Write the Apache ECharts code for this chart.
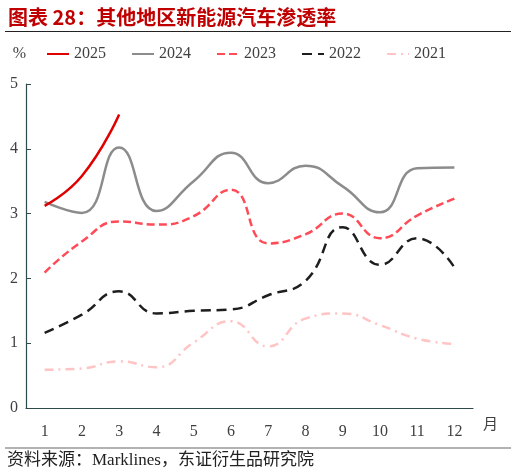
<!DOCTYPE html>
<html lang="zh">
<head>
    <meta charset="UTF-8">
    <title>其他地区新能源汽车渗透率</title>
    <script src="https://cdn.jsdelivr.net/npm/echarts@6/dist/echarts.min.js"></script>
    <style>
        html, body { margin: 0; padding: 0; background: #fff; }
    </style>
</head>
<body>
<div id="main" style="width: 517px;height:476px;"></div>
<script type="text/javascript">
    // 月份（x轴）
    var months = ['1', '2', '3', '4', '5', '6', '7', '8', '9', '10', '11', '12'];
    var yTicks = [0, 1, 2, 3, 4, 5];

    // 各年渗透率（%）
    var y2025 = [3.12, 3.58, 4.53];
    var y2024 = [3.18, 3.01, 4.02, 3.04, 3.50, 3.94, 3.47, 3.74, 3.42, 3.02, 3.70, 3.71];
    var y2023 = [2.09, 2.57, 2.88, 2.83, 2.96, 3.37, 2.54, 2.68, 3.00, 2.62, 2.97, 3.23];
    var y2022 = [1.16, 1.44, 1.80, 1.46, 1.50, 1.52, 1.74, 1.96, 2.79, 2.21, 2.62, 2.17];
    var y2021 = [0.59, 0.61, 0.72, 0.63, 1.01, 1.34, 0.95, 1.38, 1.46, 1.28, 1.07, 0.99];

    var serif = '"Liberation Serif", "Noto Sans CJK SC", serif';
    var cjk = '"Noto Sans CJK SC", sans-serif';

    var myChart = echarts.init(document.getElementById('main'));

    function line(name, data, color, dash) {
        return {
            name: name,
            type: 'line',
            data: data,
            smooth: 0.5,
            symbol: 'none',
            lineStyle: { color: color, width: 2.5, type: dash || 'solid' },
            itemStyle: { color: color }
        };
    }

    myChart.setOption({
        animation: false,
        title: {
            text: '图表 28：其他地区新能源汽车渗透率',
            left: 3,
            top: 2,
            textStyle: { color: '#c00000', fontSize: 20, fontWeight: 'bold', fontFamily: cjk }
        },
        legend: {
            data: ['2025', '2024', '2023', '2022', '2021'],
            left: 41,
            top: 41,
            itemWidth: 22,
            itemHeight: 10,
            itemGap: 25,
            itemStyle: { opacity: 0 },   // 图例只显示线段，不显示圆点
            textStyle: { fontFamily: serif, fontSize: 16, color: '#404040' }
        },
        grid: { left: 26, right: 44, top: 84, bottom: 68 },
        xAxis: {
            type: 'category',
            data: months,
            boundaryGap: true,
            name: '月',
            nameGap: 10,
            nameTextStyle: { fontFamily: cjk, fontSize: 15, color: '#404040', verticalAlign: 'top', padding: [8, 0, 0, 0] },
            axisLine: { lineStyle: { color: '#2f4a4a', width: 1.2 } },
            axisTick: { inside: true, length: 5, lineStyle: { color: '#2f4a4a' } },
            axisLabel: { fontFamily: serif, fontSize: 16, color: '#404040', margin: 16 }
        },
        yAxis: {
            type: 'value',
            min: yTicks[0],
            max: yTicks[yTicks.length - 1],
            interval: 1,
            name: '%',
            nameGap: 22,
            nameTextStyle: { fontFamily: serif, fontSize: 16, color: '#404040', align: 'right' },
            axisLine: { show: true, lineStyle: { color: '#2f4a4a', width: 1.2 } },
            axisTick: { show: true, inside: true, length: 5, lineStyle: { color: '#2f4a4a' } },
            axisLabel: { fontFamily: serif, fontSize: 16, color: '#404040', margin: 8 },
            splitLine: { show: false }
        },
        graphic: [
            { type: 'line', shape: { x1: 5, y1: 31.5, x2: 511, y2: 31.5 }, style: { stroke: '#222', lineWidth: 1 } },
            { type: 'line', shape: { x1: 5, y1: 448, x2: 511, y2: 448 }, style: { stroke: '#666', lineWidth: 1.2 } },
            {
                type: 'text', left: 7, top: 452,
                style: { text: '资料来源：Marklines，东证衍生品研究院', fontFamily: serif, fontSize: 17, fill: '#222' }
            }
        ],
        series: [
            line('2021', y2021, '#ffc4c4', [9, 5, 2, 5]),
            line('2022', y2022, '#1e1e1e', [10, 6]),
            line('2023', y2023, '#ff4b57', [8, 4]),
            line('2024', y2024, '#8c8c8c'),
            line('2025', y2025, '#e00000')
        ]
    });
</script>
</body>
</html>
